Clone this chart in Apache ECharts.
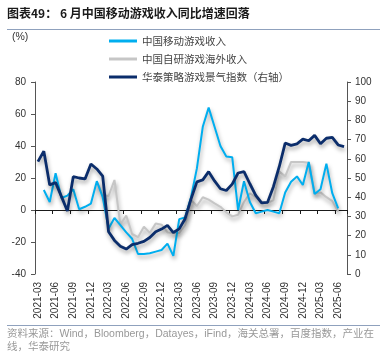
<!DOCTYPE html>
<html><head><meta charset="utf-8">
<script src="https://cdn.jsdelivr.net/npm/echarts@6/dist/echarts.min.js"></script>
<style>html,body{margin:0;padding:0;background:#fff}#c{width:384px;height:361px}</style>
</head><body><div id="c"></div>
<script>
const categories = [
  '2021-03','2021-04','2021-05','2021-06','2021-07','2021-08','2021-09','2021-10','2021-11','2021-12',
  '2022-01','2022-02','2022-03','2022-04','2022-05','2022-06','2022-07','2022-08','2022-09','2022-10','2022-11','2022-12',
  '2023-01','2023-02','2023-03','2023-04','2023-05','2023-06','2023-07','2023-08','2023-09','2023-10','2023-11','2023-12',
  '2024-01','2024-02','2024-03','2024-04','2024-05','2024-06','2024-07','2024-08','2024-09','2024-10','2024-11','2024-12',
  '2025-01','2025-02','2025-03','2025-04','2025-05','2025-06','2025-07'
];
const seriesNames = ['中国移动游戏收入', '中国自研游戏海外收入', '华泰策略游戏景气指数（右轴）'];
// 中国移动游戏收入 同比 (%)
const mobileRevenue = [
  null, 12.5, 5, 23, 7.5, 9, 13, 0.5, 2, 4,
  18, 8, -11.5, -5, -9.5, -14, -18, -27.5, -27.5, -27, -26, -25,
  -21, -28.7, -5.7, -4.7, 8, 26, 52, 64, 52, 40, 33.5, 33,
  0, 18, 5, -2, -1, 0, -1, -2, 11, 17.7, 21, 15.6,
  30, 10, 13, 29, 10.5, 1, null
];
// 中国自研游戏海外收入 同比 (%)
const overseasRevenue = [
  null, null, null, null, null, null, null, null, null, null,
  17.7, 9.4, 8.75, 18.75, -9, -3.5, -15, -17, -10.4, -14.3, -8.5, -9.2,
  -14, -14.3, -14.3, -9.5, 6.25, 2.5, 8, 6.5, 4.2, 2, -1.5, -4,
  -3, 5, 10.4, 8, 4.5, 4.5, 6, 24, 21, 30, 30, 30,
  29.5, 10.5, 11, 8, 5.5, -1, null
];
// 华泰策略游戏景气指数（右轴）
const sentimentIndex = [
  58.5, 64, 46.4, 47.6, 40.3, 32.8, 50.7, 50, 49.5, 57.3,
  54.7, 51, 22, 17.5, 14.5, 13, 15.3, 16, 17, 19, 22, 23.4,
  25.3, 21.6, 23.5, 28.8, 39, 48, 49, 53.3, 48.5, 44.4, 43.5, 46.8,
  52.6, 53.3, 47, 41, 37, 37.3, 45.5, 56, 68.2, 67, 67.8, 70.2,
  69.4, 72.2, 67.8, 70.7, 71.2, 67.2, 66.3
];
const leftAxisRange = [-40, 80, 20];
const rightAxisRange = [0, 100, 10];

const colors = ['#00aeef', '#c6c6c6', '#0b2d6b'];
const shadow = {shadowColor: 'rgba(0,0,0,0.35)', shadowBlur: 4, shadowOffsetX: 1, shadowOffsetY: 3};
const axisFont = '"Liberation Sans", Arial, sans-serif';
const cjkFont = '"Liberation Sans", "Noto Sans CJK SC", sans-serif';

const chart = echarts.init(document.getElementById('c'), null, {renderer: 'canvas'});
chart.setOption({
  animation: false,
  backgroundColor: '#fff',
  grid: {left: 35, right: 37, top: 82, bottom: 87, containLabel: false},
  legend: {
    orient: 'vertical', left: 104, top: 30, itemWidth: 28, itemHeight: 3, icon: 'rect', itemGap: 6,
    textStyle: {fontSize: 10.5, color: '#444', fontFamily: '"Noto Sans CJK SC", sans-serif', lineHeight: 12},
    data: seriesNames
  },
  xAxis: [
    {
      type: 'category', data: categories, position: 'bottom', boundaryGap: true,
      axisLine: {show: false, onZero: false}, axisTick: {show: false},
      axisLabel: {interval: 2, rotate: 90, fontSize: 10, color: '#333', margin: 8, fontFamily: axisFont}
    },
    {
      type: 'category', data: categories, position: 'bottom', boundaryGap: true,
      axisLine: {show: true, onZero: true, onZeroAxisIndex: 0, lineStyle: {color: '#1a1a1a', width: 1}},
      axisTick: {show: true, interval: 2, length: 4, inside: false, lineStyle: {color: '#1a1a1a'}},
      axisLabel: {show: false}
    }
  ],
  yAxis: [
    {
      type: 'value', position: 'left', min: leftAxisRange[0], max: leftAxisRange[1], interval: leftAxisRange[2],
      axisLine: {show: true, lineStyle: {color: '#555'}},
      axisTick: {show: true, length: 4, lineStyle: {color: '#555'}},
      splitLine: {show: false},
      axisLabel: {fontSize: 10, color: '#333', margin: 9, fontFamily: axisFont}
    },
    {
      type: 'value', position: 'right', min: rightAxisRange[0], max: rightAxisRange[1], interval: rightAxisRange[2],
      axisLine: {show: true, lineStyle: {color: '#555'}},
      axisTick: {show: true, length: 4, lineStyle: {color: '#555'}},
      splitLine: {show: false},
      axisLabel: {fontSize: 10, color: '#333', margin: 8, fontFamily: axisFont}
    }
  ],
  series: [
    {
      name: seriesNames[0], type: 'line', data: mobileRevenue, xAxisIndex: 0, yAxisIndex: 0,
      color: colors[0], showSymbol: false, symbol: 'none',
      lineStyle: Object.assign({color: colors[0], width: 2}, shadow)
    },
    {
      name: seriesNames[1], type: 'line', data: overseasRevenue, xAxisIndex: 0, yAxisIndex: 0,
      color: colors[1], showSymbol: false, symbol: 'none', z: 1,
      lineStyle: Object.assign({color: colors[1], width: 2}, shadow)
    },
    {
      name: seriesNames[2], type: 'line', data: sentimentIndex, xAxisIndex: 0, yAxisIndex: 1,
      color: colors[2], showSymbol: false, symbol: 'none', z: 3,
      lineStyle: Object.assign({color: colors[2], width: 2.8}, shadow)
    }
  ],
  graphic: [
    {type: 'text', left: 7, top: 7, style: {text: '图表49： 6 月中国移动游戏收入同比增速回落', font: 'bold 12px "Noto Sans CJK SC", sans-serif', fill: '#1a1a1a'}},
    {type: 'line', shape: {x1: 7, y1: 29.5, x2: 380, y2: 29.5}, style: {stroke: '#8fa1bd', lineWidth: 1}},
    {type: 'text', left: 12, top: 32, style: {text: '(%)', font: '10.5px ' + axisFont, fill: '#333'}},
    {type: 'line', shape: {x1: 7, y1: 325.5, x2: 380, y2: 325.5}, style: {stroke: '#8fa1bd', lineWidth: 1}},
    {type: 'text', left: 7, top: 329, style: {text: '资料来源：Wind，Bloomberg，Datayes，iFind，海关总署，百度指数，产业在', font: '10.5px ' + cjkFont, fill: '#999'}},
    {type: 'text', left: 7, top: 342, style: {text: '线，华泰研究', font: '10.5px ' + cjkFont, fill: '#999'}}
  ]
});
</script>
</body></html>
